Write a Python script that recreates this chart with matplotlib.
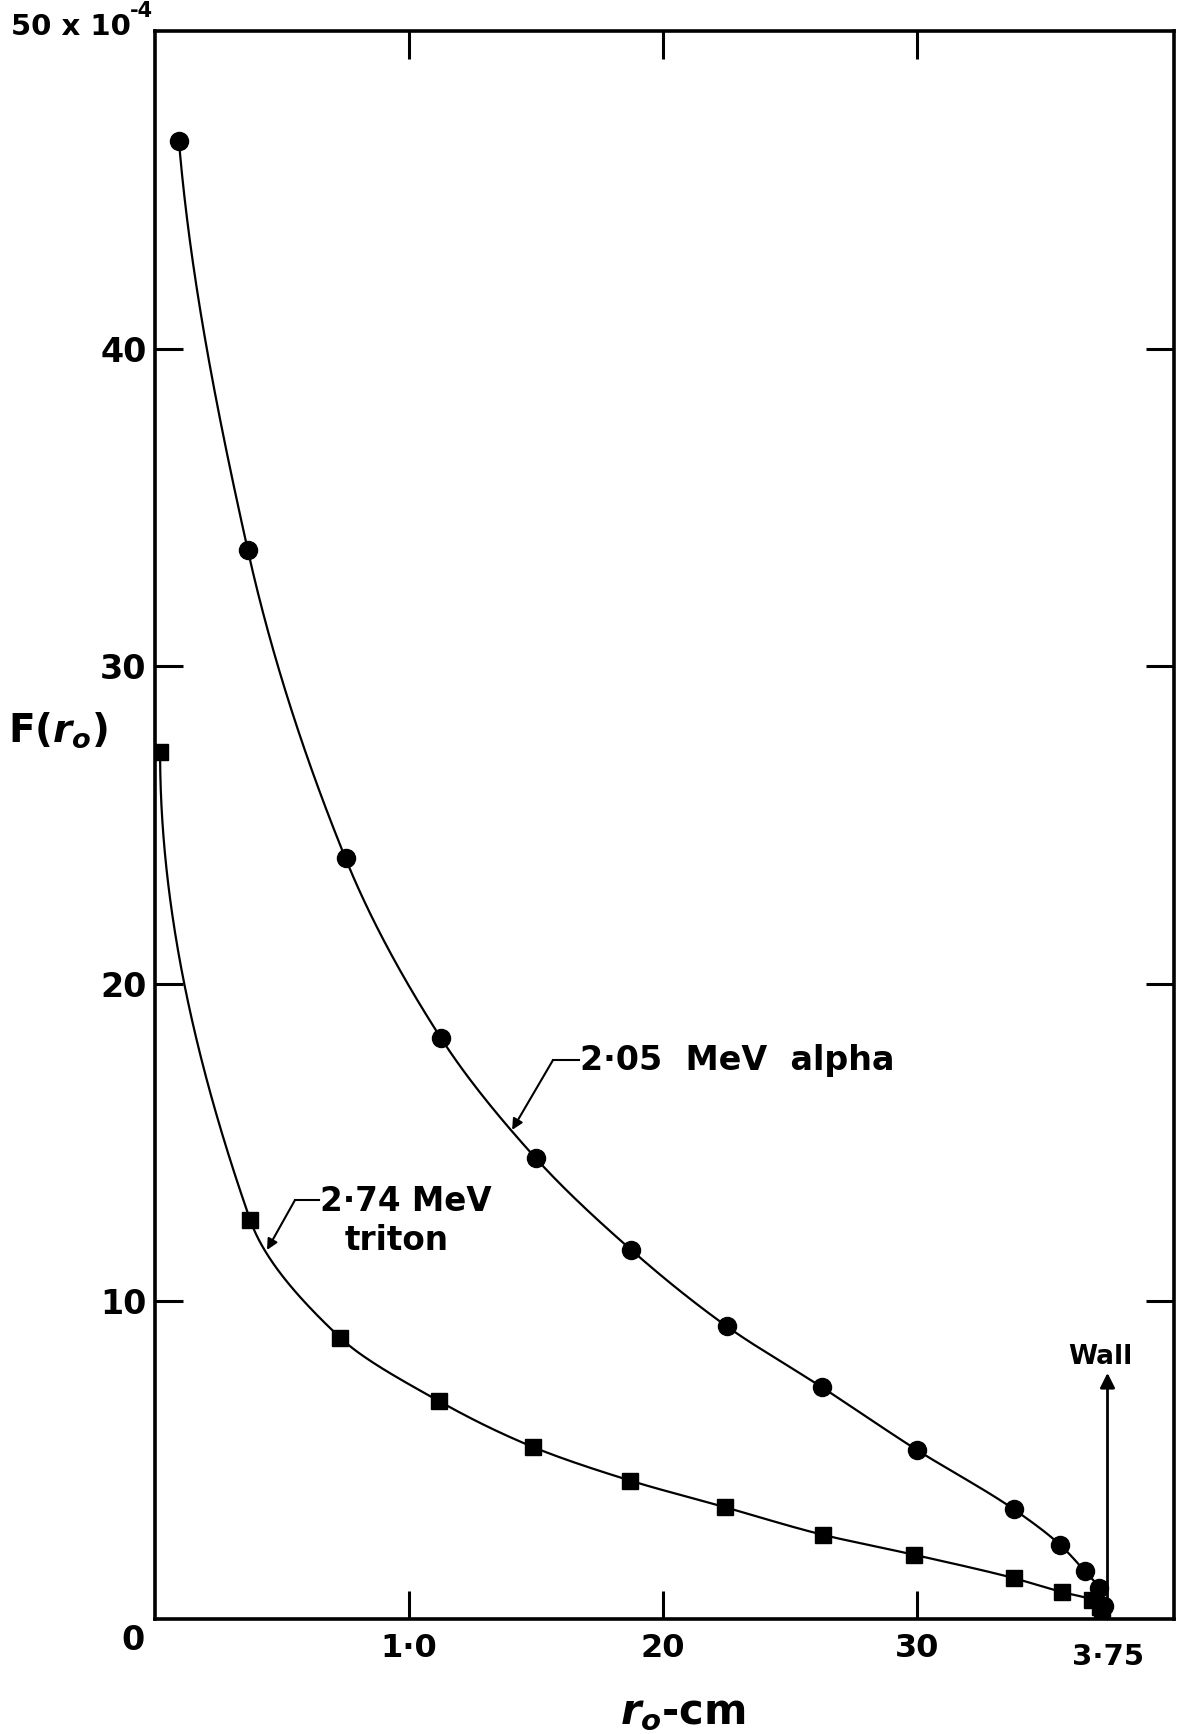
import numpy as np
import matplotlib
matplotlib.use("Agg")
import matplotlib.pyplot as plt

# Measured F(r0) values (units of 1e-4) against radial position r0 in cm
alpha_x = [0.094, 0.365, 0.75, 1.125, 1.5, 1.875, 2.25, 2.625, 3.0, 3.38, 3.5625, 3.66, 3.715, 3.735]
alpha_y = [46.55, 33.67, 23.95, 18.3, 14.5, 11.62, 9.22, 7.3, 5.32, 3.46, 2.34, 1.51, 0.98, 0.40]

triton_x = [0.02, 0.375, 0.73, 1.118, 1.49, 1.87, 2.245, 2.63, 2.99, 3.38, 3.57, 3.69, 3.72, 3.73]
triton_y = [27.3, 12.56, 8.85, 6.86, 5.41, 4.36, 3.52, 2.65, 2.02, 1.29, 0.85, 0.60, 0.38, 0.13]

x_ticks = [1.0, 2.0, 3.0]
x_tick_labels = ["1·0", "20", "30"]
y_ticks = [10, 20, 30, 40]
y_tick_labels = ["10", "20", "30", "40"]
wall_x = 3.75
wall_label = "3·75"

FONT = "DejaVu Sans"
plt.rcParams["font.family"] = [FONT]
plt.rcParams["mathtext.fontset"] = "custom"
plt.rcParams["mathtext.rm"] = "DejaVu Sans:bold"
plt.rcParams["mathtext.it"] = "DejaVu Sans:italic:bold"
plt.rcParams["mathtext.bf"] = "DejaVu Sans:bold"


def pchip(xk, yk, xs):
    """Monotone piecewise cubic Hermite curve (Fritsch-Carlson)."""
    xk = np.asarray(xk, float)
    yk = np.asarray(yk, float)
    h = np.diff(xk)
    d = np.diff(yk) / h
    n = len(xk)
    m = np.zeros(n)
    for k in range(1, n - 1):
        if d[k - 1] * d[k] > 0:
            w1 = 2 * h[k] + h[k - 1]
            w2 = h[k] + 2 * h[k - 1]
            m[k] = (w1 + w2) / (w1 / d[k - 1] + w2 / d[k])

    def end_slope(h0, h1, d0, d1):
        s = ((2 * h0 + h1) * d0 - h0 * d1) / (h0 + h1)
        if np.sign(s) != np.sign(d0):
            s = 0.0
        elif np.sign(d0) != np.sign(d1) and abs(s) > abs(3 * d0):
            s = 3 * d0
        return s

    m[0] = end_slope(h[0], h[1], d[0], d[1])
    m[-1] = end_slope(h[-1], h[-2], d[-1], d[-2])
    idx = np.clip(np.searchsorted(xk, xs) - 1, 0, n - 2)
    t = (xs - xk[idx]) / h[idx]
    h00 = 2 * t**3 - 3 * t**2 + 1
    h10 = t**3 - 2 * t**2 + t
    h01 = -2 * t**3 + 3 * t**2
    h11 = t**3 - t**2
    return (h00 * yk[idx] + h10 * h[idx] * m[idx]
            + h01 * yk[idx + 1] + h11 * h[idx] * m[idx + 1])


def smooth_curve(xs, ys):
    # curves fall monotonically, so trace r0 as a function of F
    yk = np.asarray(ys, float)[::-1]
    xk = np.asarray(xs, float)[::-1]
    yy = np.linspace(yk[0], yk[-1], 600)
    return pchip(yk, xk, yy), yy


W, H = 1182, 1734
fig = plt.figure(figsize=(W / 100, H / 100), dpi=100)
L, R, T, B = 155, 1174, 31, 1619
ax = fig.add_axes([L / W, 1 - B / H, (R - L) / W, (B - T) / H])

ax.set_xlim(0, (R - L) / 254.0)
ax.set_ylim(0, 50)

lw_curve = 1.6
cx, cy = smooth_curve(alpha_x, alpha_y)
ax.plot(cx, cy, color="black", lw=lw_curve, zorder=2)
ax.plot(alpha_x, alpha_y, "o", color="black", ms=13, zorder=3)

tx, ty = smooth_curve(triton_x, triton_y)
ax.plot(tx, ty, color="black", lw=lw_curve, zorder=2)
ax.plot(triton_x, triton_y, "s", color="black", ms=11.5, zorder=3)

# frame and inward ticks on all four sides
for sp in ax.spines.values():
    sp.set_linewidth(2.6)
ax.set_xticks(x_ticks)
ax.set_xticklabels(x_tick_labels, fontsize=23, fontweight="bold")
ax.set_yticks(y_ticks)
ax.set_yticklabels(y_tick_labels, fontsize=24, fontweight="bold")
ax.tick_params(axis="both", which="major", direction="in", length=20, width=2.2,
               top=True, right=True)
ax.tick_params(axis="x", pad=10)
ax.tick_params(axis="y", pad=6)

# corner labels
ax.text(-0.04, -0.15, "0", ha="right", va="top", fontsize=24, fontweight="bold",
        transform=ax.transData, clip_on=False)
fig.text(131 / W, 1 - 27 / H, "50 x 10", ha="right", va="center", fontsize=21,
         fontweight="bold")
fig.text(130 / W, 1 - 11 / H, "-4", ha="left", va="center", fontsize=15,
         fontweight="bold")
ax.text(wall_x, -0.75, wall_label, ha="center", va="top", fontsize=21,
        fontweight="bold", clip_on=False)

# axis titles
fig.text(58 / W, 1 - 730 / H, r"F($\mathit{r}_{o}$)", ha="center", va="center",
         fontsize=28, fontweight="bold")
fig.text(683 / W, 1 - 1712 / H, r"$\mathit{r}_{o}$-cm", ha="center", va="center",
         fontsize=30, fontweight="bold")

# wall marker
ax.annotate("", xy=(wall_x, 7.75), xytext=(wall_x, 0.0),
            arrowprops=dict(arrowstyle="-|>", lw=2.0, color="black",
                            mutation_scale=22, shrinkA=0, shrinkB=0))
ax.text(wall_x - 0.03, 7.85, "Wall", ha="center", va="bottom", fontsize=19,
        fontweight="bold")

# curve labels with leaders
ax.plot([1.567, 1.67], [17.6, 17.6], color="black", lw=1.5)
ax.annotate("", xy=(1.406, 15.4), xytext=(1.567, 17.6),
            arrowprops=dict(arrowstyle="-|>", lw=1.5, color="black",
                            mutation_scale=16, shrinkA=0, shrinkB=0))
ax.text(1.675, 17.6, "2·05  MeV  alpha", ha="left", va="center", fontsize=24,
        fontweight="bold")

ax.plot([0.551, 0.645], [13.19, 13.19], color="black", lw=1.5)
ax.annotate("", xy=(0.441, 11.62), xytext=(0.551, 13.19),
            arrowprops=dict(arrowstyle="-|>", lw=1.5, color="black",
                            mutation_scale=16, shrinkA=0, shrinkB=0))
ax.text(0.65, 13.15, "2·74 MeV", ha="left", va="center", fontsize=23.5,
        fontweight="bold")
ax.text(0.748, 11.93, "triton", ha="left", va="center", fontsize=23.5,
        fontweight="bold")

fig.savefig("out.png", dpi=100, facecolor="white")
